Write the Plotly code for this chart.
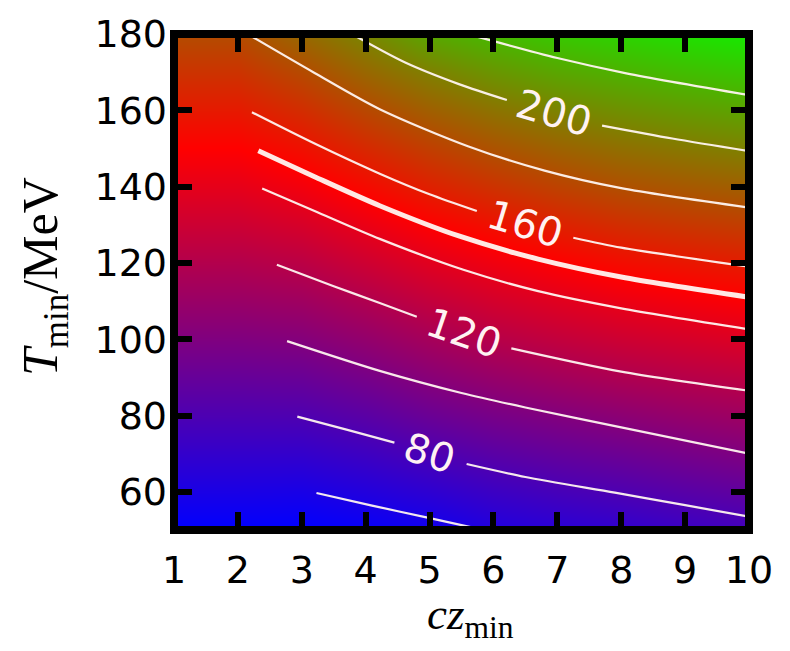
import plotly.graph_objects as go

# ---- background field: value on a (T_min, cz_min) grid ----
cz_grid = [1, 2, 3, 4, 5, 6, 7, 8, 9, 10]
tmin_grid = [50, 60, 70, 80, 90, 100, 110, 120, 130, 140, 150, 160, 170, 180]
value_grid = [
    [50, 50, 50.0, 52.5, 56.1, 62.5, 65.7, 68.5, 72.5, 75.8],
    [60, 60, 59.5, 63.4, 67.9, 73.3, 77.3, 80.4, 84.4, 87.9],
    [70, 70, 70.1, 74.2, 79.6, 85.0, 89.0, 92.3, 96.2, 100.0],
    [80, 80, 80.6, 85.3, 91.6, 96.7, 100.7, 104.7, 108.7, 112.1],
    [90, 90, 91.2, 96.6, 103.4, 109.1, 113.9, 118.2, 121.5, 124.3],
    [100, 100, 101.8, 107.8, 114.9, 121.5, 126.2, 130.4, 133.7, 136.8],
    [110, 110, 112.4, 119.0, 126.5, 132.8, 137.8, 142.3, 145.8, 148.8],
    [120, 120, 123.1, 130.5, 138.2, 144.1, 149.5, 154.7, 158.2, 161.3],
    [130, 130, 134.1, 141.9, 149.7, 156.4, 162.6, 167.7, 171.3, 174.2],
    [140, 140, 145.2, 153.6, 162.5, 169.5, 175.7, 180.9, 184.4, 187.4],
    [150, 150, 156.3, 165.9, 174.7, 182.3, 188.5, 193.6, 197.5, 201.0],
    [160, 160, 167.6, 178.0, 187.4, 195.0, 201.4, 206.6, 210.9, 214.6],
    [170, 170, 178.9, 190.4, 200.3, 208.6, 215.1, 219.9, 224.3, 228.2],
    [180, 180, 191.3, 202.7, 215.9, 222.7, 228.8, 233.1, 237.7, 241.8],
]

# ---- iso-lines (cz_min, T_min); None marks the gap left for a label ----
cz_60 = [3.23, 4.1, 4.95, 5.8, 6.1]
t_60 = [59.7, 56.4, 53.3, 50.2, 49.2]
cz_80 = [2.93, 3.7, 4.45, None, 5.58, 6.5, 7.9, 9.0, 10.0]
t_80 = [79.7, 76.3, 72.9, None, 67.3, 63.9, 59.8, 56.5, 53.5]
cz_100 = [2.77, 4.22, 5.5, 6.5, 8.0, 10.0]
t_100 = [99.5, 91.7, 85.9, 82.1, 76.9, 70.0]
cz_120 = [2.61, 3.5, 4.22, 4.8, None, 6.28, 8.0, 10.0]
t_120 = [119.5, 113.9, 109.5, 105.9, None, 97.6, 91.5, 86.5]
cz_140 = [2.38, 3.2, 4.22, 5.53, 6.7, 8.0, 10.0]
t_140 = [139.5, 133.6, 126.3, 118.2, 112.6, 108.1, 102.6]
cz_150 = [2.32, 3.2, 4.22, 5.47, 6.7, 8.0, 10.0]
t_150 = [149.4, 142.6, 135.0, 127.0, 121.0, 116.3, 111.0]
cz_160 = [2.22, 3.2, 4.22, 5.0, 5.74, None, 7.25, 8.0, 10.0]
t_160 = [159.5, 151.3, 143.4, 138.0, 133.6, None, 126.6, 124.0, 119.0]
cz_180 = [2.1, 3.2, 4.22, 5.6, 6.8, 8.0, 10.0]
t_180 = [180.5, 169.8, 160.3, 150.6, 144.2, 139.6, 134.5]
cz_200 = [3.75, 4.61, 5.47, 6.21, None, 7.7, 8.8, 10.0]
t_200 = [180.3, 172.6, 166.8, 162.7, None, 156.0, 152.6, 149.3]
cz_220 = [5.7, 7.0, 8.08, 10.0]
t_220 = [179.5, 173.7, 169.7, 164.0]

# ---- inline labels ----
label_text = ["80", "120", "160", "200"]
label_cz = [5.0, 5.54, 6.5, 6.955]
label_t = [70.1, 101.7, 130.1, 159.35]
label_angle = [18, 19, 17, 16]

x_ticks = [1, 2, 3, 4, 5, 6, 7, 8, 9, 10]
y_ticks = [60, 80, 100, 120, 140, 160, 180]

fig = go.Figure()

fig.add_trace(go.Heatmap(
    x=cz_grid, y=tmin_grid, z=value_grid,
    zmin=50, zmax=250, zsmooth="best",
    colorscale=[[0.0, "rgb(0,0,255)"], [0.5, "rgb(255,0,0)"], [1.0, "rgb(0,255,0)"]],
    showscale=False, hoverinfo="skip",
))

line_color = "rgba(255,244,240,0.95)"
iso_lines = [
    (cz_60, t_60, 2.2), (cz_80, t_80, 2.2), (cz_100, t_100, 2.2), (cz_120, t_120, 2.2),
    (cz_140, t_140, 2.2), (cz_150, t_150, 5), (cz_160, t_160, 2.2),
    (cz_180, t_180, 2.2), (cz_200, t_200, 2.2), (cz_220, t_220, 2.2),
]
for xs, ys, w in iso_lines:
    fig.add_trace(go.Scatter(
        x=xs, y=ys, mode="lines",
        line=dict(color=line_color, width=w, shape="spline", smoothing=0.8),
        connectgaps=False, hoverinfo="skip", showlegend=False,
    ))

for txt, cx, ty, ang in zip(label_text, label_cz, label_t, label_angle):
    fig.add_annotation(
        x=cx, y=ty, xref="x", yref="y", text=txt, showarrow=False,
        textangle=ang, xanchor="center", yanchor="middle",
        font=dict(family="DejaVu Sans", size=40, color="rgb(255,242,242)"),
    )

tick_font = dict(family="DejaVu Sans", size=38, color="black")
fig.update_xaxes(
    range=[1, 10], tickvals=x_ticks, ticks="inside", ticklen=18, tickwidth=6,
    tickcolor="black", mirror="ticks", showgrid=False, zeroline=False,
    showline=False, tickfont=tick_font, ticklabelstandoff=14,
)
fig.update_yaxes(
    range=[50, 180], tickvals=y_ticks, ticks="inside", ticklen=18, tickwidth=6,
    tickcolor="black", mirror="ticks", showgrid=False, zeroline=False,
    showline=False, tickfont=tick_font, ticklabelstandoff=6,
)

# frame around the plotting area
fig.add_shape(type="rect", xref="paper", yref="paper", x0=0, x1=1, y0=0, y1=1,
              line=dict(color="black", width=8), layer="above")

# axis titles
fig.add_annotation(
    x=-0.226, y=0.51, xref="paper", yref="paper", textangle=-90,
    text="<i>T</i><sub>min</sub>/MeV", showarrow=False,
    xanchor="center", yanchor="middle",
    font=dict(family="Liberation Serif", size=50, color="black"),
)
fig.add_annotation(
    x=0.515, y=-0.176, xref="paper", yref="paper",
    text="<i>cz</i><sub>min</sub>", showarrow=False,
    xanchor="center", yanchor="middle",
    font=dict(family="Liberation Serif", size=45, color="black"),
)

fig.update_layout(
    width=790, height=651,
    margin=dict(l=174, r=41, t=31, b=121),
    paper_bgcolor="white", plot_bgcolor="white",
    showlegend=False,
)

fig.write_html("out.html")
